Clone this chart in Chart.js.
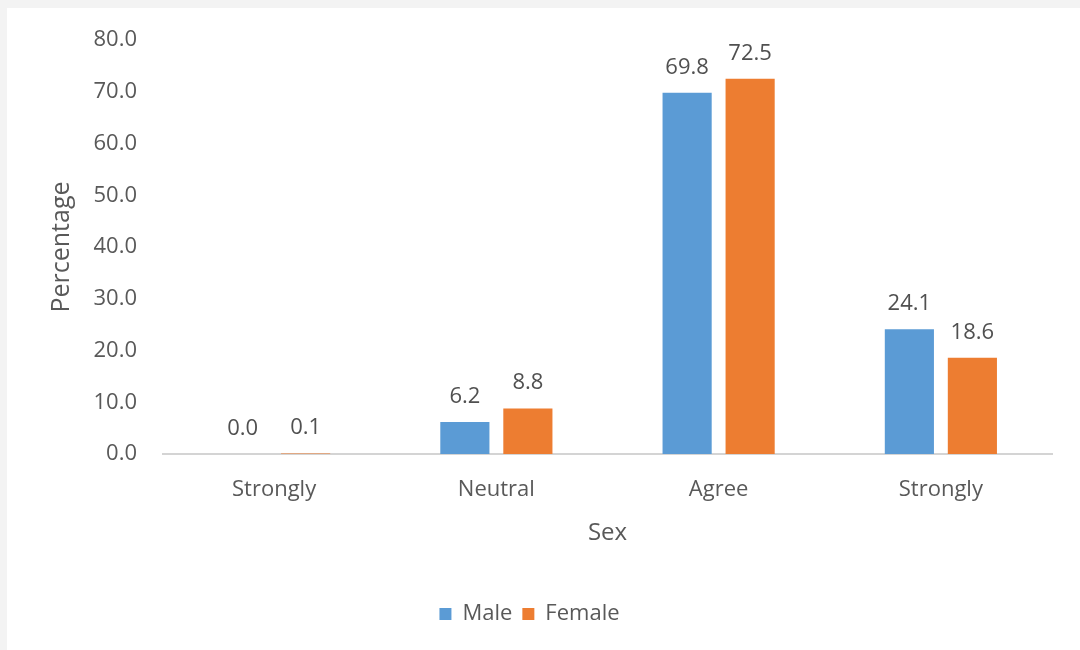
<!DOCTYPE html>
<html>
<head>
<meta charset="utf-8">
<script src="https://cdn.jsdelivr.net/npm/chart.js@4"></script>
<style>
  html, body { margin: 0; padding: 0; background: #f3f3f3; }
  #panel {
    position: absolute;
    left: 7px;
    top: 8px;
    width: 1073px;
    height: 642px;
    background: #ffffff;
  }
</style>
</head>
<body>
<div id="panel"><canvas id="chart" width="1073" height="642"></canvas></div>
<script>
// Response categories along the x axis
const categories = ['Strongly', 'Neutral', 'Agree', 'Strongly'];

// Percentages per sex
const maleValues = [0.0, 6.2, 69.8, 24.1];
const femaleValues = [0.1, 8.8, 72.5, 18.6];

// Y axis range
const yMin = 0;
const yMax = 80;
const yStep = 10;

const textGray = '#595959';
const fontFamily = '"Open Sans", "Noto Sans", sans-serif';

// Writes each bar's value above it, one decimal
const valueLabels = {
    id: 'valueLabels',
    afterDatasetsDraw(chart) {
        const ctx = chart.ctx;
        ctx.save();
        ctx.font = '22px ' + fontFamily;
        ctx.fillStyle = '#505050';
        ctx.textAlign = 'center';
        ctx.textBaseline = 'alphabetic';
        chart.data.datasets.forEach((ds, i) => {
            const meta = chart.getDatasetMeta(i);
            meta.data.forEach((bar, j) => {
                ctx.fillText(ds.data[j].toFixed(1), bar.x, bar.y - 19);
            });
        });
        ctx.restore();
    }
};

new Chart(document.getElementById('chart'), {
    type: 'bar',
    data: {
        labels: categories,
        datasets: [
            {
                label: 'Male',
                data: maleValues,
                backgroundColor: '#5B9BD5',
                categoryPercentage: 0.567,
                barPercentage: 0.78
            },
            {
                label: 'Female',
                data: femaleValues,
                backgroundColor: '#ED7D31',
                categoryPercentage: 0.567,
                barPercentage: 0.78
            }
        ]
    },
    options: {
        responsive: false,
        animation: false,
        layout: {
            padding: { top: 32, right: 28, bottom: 15, left: 0 }
        },
        plugins: {
            legend: {
                position: 'bottom',
                labels: {
                    boxWidth: 12,
                    boxHeight: 12,
                    padding: 10,
                    color: textGray,
                    font: { family: fontFamily, size: 22 }
                }
            },
            tooltip: { enabled: false }
        },
        scales: {
            x: {
                grid: { display: false, drawTicks: false },
                border: { display: true, color: '#d4d4d4', width: 2 },
                ticks: {
                    color: textGray,
                    padding: 23,
                    font: { family: fontFamily, size: 22 }
                },
                title: {
                    display: true,
                    text: 'Sex',
                    color: textGray,
                    font: { family: fontFamily, size: 24 },
                    padding: { top: 0, bottom: 45 }
                },
                afterFit(scale) {
                    scale.height = 139;
                }
            },
            y: {
                min: yMin,
                max: yMax,
                grid: { display: false, drawTicks: false },
                border: { display: false },
                ticks: {
                    stepSize: yStep,
                    color: textGray,
                    padding: 26,
                    font: { family: fontFamily, size: 22 },
                    callback: v => v.toFixed(1)
                },
                title: {
                    display: true,
                    text: 'Percentage',
                    color: textGray,
                    font: { family: fontFamily, size: 25 },
                    padding: { top: 40, bottom: 0 }
                },
                afterFit(scale) {
                    // keep the tick padding from reserving space above the axis
                    scale.width = 156;
                    scale.paddingTop = 12;
                    scale.paddingBottom = 12;
                }
            }
        }
    },
    plugins: [valueLabels]
});
</script>
</body>
</html>
